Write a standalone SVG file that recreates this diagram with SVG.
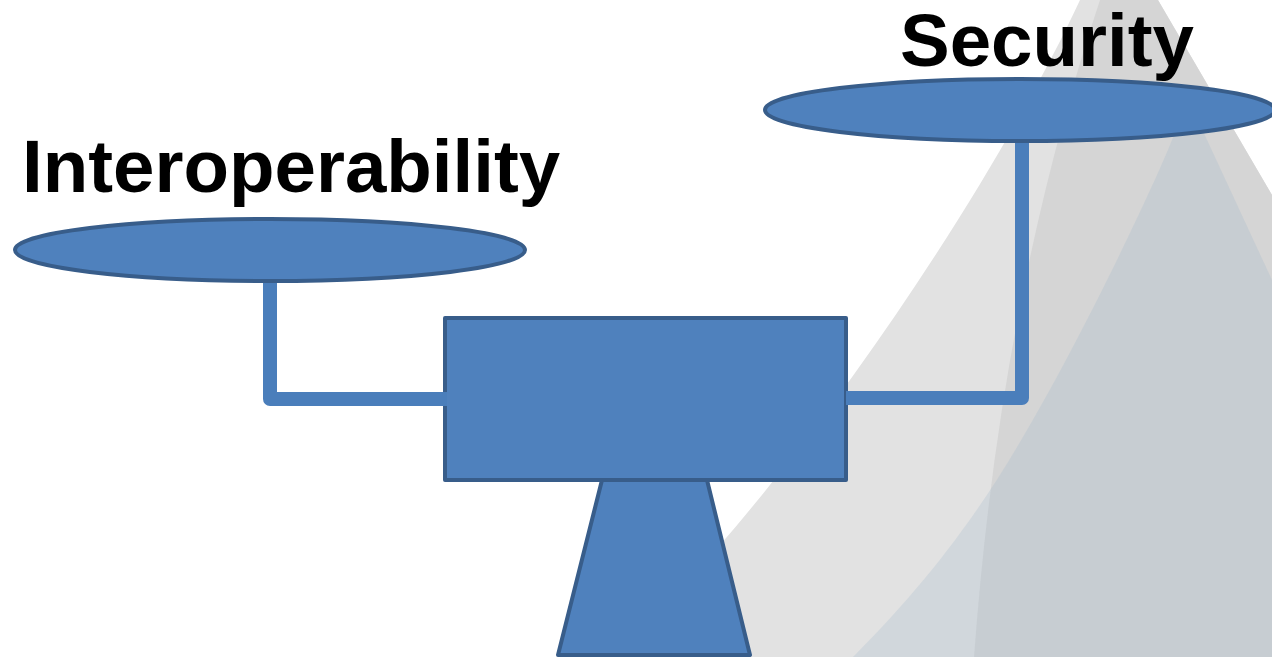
<svg xmlns="http://www.w3.org/2000/svg" width="1272" height="657" viewBox="0 0 1272 657">
<style>
.shape{fill:#4f81bd;stroke:#385d8a;stroke-width:4;stroke-linejoin:round}
.conn{fill:none;stroke:#4a7ebb;stroke-width:14;stroke-linejoin:round;stroke-linecap:butt}
.label{font-family:"Liberation Sans",Arial,sans-serif;font-weight:bold;font-size:74.5px;fill:#000}
</style>
<rect width="1272" height="657" fill="#ffffff"/>
<g id="background">
<path d="M1080,0 C1020,130 880,360 720,545 C680,590 640,630 610,657 L1272,657 L1272,195 L1158,0 Z" fill="#e2e2e2"/>
<path d="M1100,0 Q1000,300 974,657 L1272,657 L1272,195 L1158,0 Z" fill="#d5d5d5"/>
<path d="M1189,101 L1172,140 C1150,195 1080,340 1027,430 C970,530 910,600 853,657 L1272,657 L1272,280 Z" fill="#a0b9cd" opacity="0.25"/>
</g>
<g id="base">
<polygon class="shape" points="602,480 707,480 750,655 558,655"/>
</g>
<g id="beam">
<rect class="shape" x="445" y="318" width="401" height="162"/>
</g>
<g id="connectors">
<path class="conn" d="M270,280 L270,399 L447,399"/>
<path class="conn" d="M846,398 L1022,398 L1022,138"/>
</g>
<g id="pan-interoperability">
<ellipse class="shape" cx="270" cy="250" rx="255" ry="31"/>
<text class="label" x="22" y="192">Interoperability</text>
</g>
<g id="pan-security">
<ellipse class="shape" cx="1020" cy="110" rx="255" ry="31"/>
<text class="label" x="900" y="66">Security</text>
</g>
</svg>
